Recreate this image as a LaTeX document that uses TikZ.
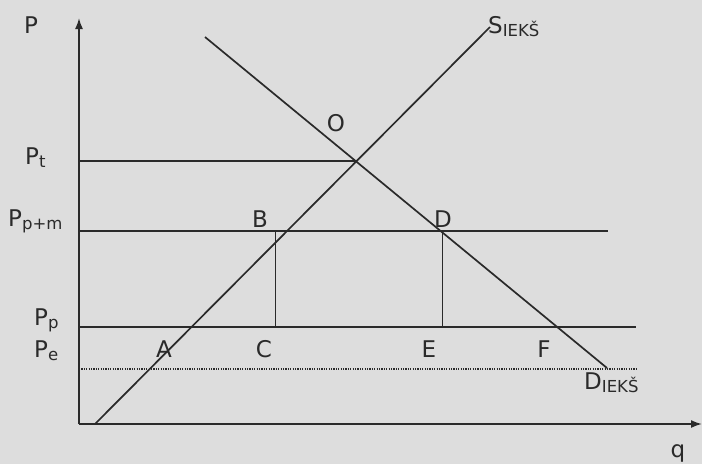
\documentclass[tikz,border=0pt]{standalone}
\usepackage{fontspec}
\setmainfont{DejaVu Sans}
\usetikzlibrary{arrows.meta}
\definecolor{bg}{HTML}{DDDDDD}
\definecolor{ink}{HTML}{2A2A2A}
\newcommand{\mysub}[1]{\raisebox{-0.3ex}{\fontsize{16.5}{16.5}\selectfont #1}}
\begin{document}
\begin{tikzpicture}[x=1pt,y=-1pt,
  lbl/.style={font=\fontsize{23}{23}\selectfont, text=ink, inner sep=0pt, anchor=base},
  lblw/.style={lbl, anchor=base west},
  axis/.style={line width=1.7pt, draw=ink, -{Latex[length=11pt,width=8pt]}},
  curve/.style={line width=1.7pt, draw=ink},
  level/.style={line width=1.7pt, draw=ink},
  drop/.style={line width=0.8pt, draw=ink},
  dotline/.style={line width=1.3pt, draw=ink, dash pattern=on 1.2pt off 1.2pt}]
\fill[bg] (0,0) rectangle (702,464);
\useasboundingbox (0,0) rectangle (702,464);
% coordinates
\coordinate (orig) at (79,424);
\coordinate (ytop) at (79,18);
\coordinate (xend) at (702,424);
\coordinate (s1) at (95,424);
\coordinate (s2) at (490,27);
\coordinate (d1) at (205,37);
\coordinate (d2) at (607,368);
\coordinate (O) at (355,161);
\coordinate (pt0) at (79,161);
\coordinate (pm0) at (79,231);
\coordinate (pm1) at (608,231);
\coordinate (pp0) at (79,327);
\coordinate (pp1) at (636,327);
\coordinate (pe0) at (79,369);
\coordinate (pe1) at (636,369);
\coordinate (bT) at (275,231);
\coordinate (bB) at (275,327);
\coordinate (dT) at (442,231);
\coordinate (dB) at (442,327);
% levels
\draw[level] (pt0) -- (O);
\draw[level] (pm0) -- (pm1);
\draw[level] (pp0) -- (pp1);
\draw[dotline] (pe0) -- (pe1);
\draw[drop] (bT) -- (bB);
\draw[drop] (dT) -- (dB);
% curves
\draw[curve] (s1) -- (s2);
\draw[curve] (d1) -- (d2);
% axes
\draw[axis] (orig) -- (ytop);
\draw[axis] (orig) -- (xend);
% labels
\node[lbl] (lP) at (31,33) {P};
\node[lblw] (lPt) at (25,164) {P\mysub{t}};
\node[lblw] (lPpm) at (8,226) {P\mysub{p+m}};
\node[lblw] (lPp) at (34,325) {P\mysub{p}};
\node[lblw] (lPe) at (34,357) {P\mysub{e}};
\node[lbl] (lO) at (336,131) {O};
\node[lbl] (lB) at (260,227) {B};
\node[lbl] (lD) at (443,227) {D};
\node[lbl] (lA) at (164,357) {A};
\node[lbl] (lC) at (264,357) {C};
\node[lbl] (lE) at (429,357) {E};
\node[lbl] (lF) at (544,357) {F};
\node[lblw] (lS) at (488,33) {S\mysub{IEKŠ}};
\node[lblw] (lDi) at (584,389) {D\mysub{IEKŠ}};
\node[lbl] (lq) at (678,457) {q};
\end{tikzpicture}
\end{document}
